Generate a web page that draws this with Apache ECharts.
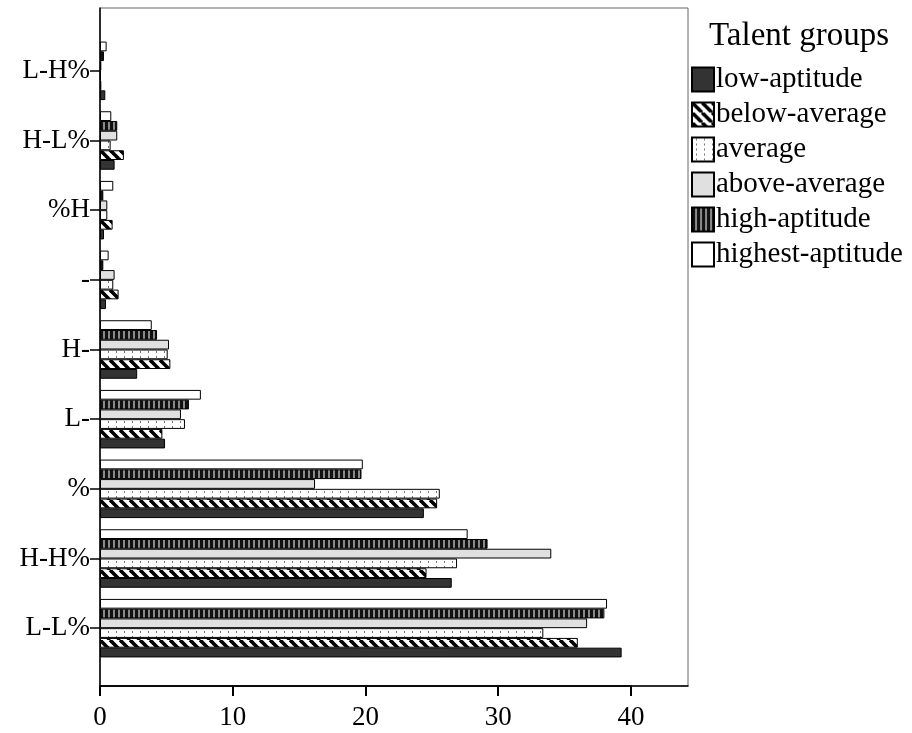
<!DOCTYPE html>
<html><head><meta charset="utf-8">
<script src="https://cdn.jsdelivr.net/npm/echarts@6/dist/echarts.min.js"></script>
<style>html,body{margin:0;padding:0;background:#fff}#c{width:912px;height:733px}</style>
</head><body><div id="c"></div>
<script>
const categories = ['L-L%', 'H-H%', '%', 'L-', 'H-', '-', '%H', 'H-L%', 'L-H%'];
const groupNames = ['low-aptitude', 'below-average', 'average', 'above-average', 'high-aptitude', 'highest-aptitude'];
const lowAptitude     = [39.3, 26.5, 24.4, 4.9, 2.8, 0.45, 0.3, 1.1, 0.4];
const belowAverage    = [36.0, 24.6, 25.4, 4.7, 5.3, 1.4, 0.95, 1.8, 0.1];
const averageGroup    = [33.4, 26.9, 25.6, 6.4, 5.1, 1.0, 0.55, 0.8, 0.05];
const aboveAverage    = [36.7, 34.0, 16.2, 6.1, 5.2, 1.1, 0.55, 1.3, 0.1];
const highAptitude    = [38.0, 29.2, 19.7, 6.7, 4.3, 0.25, 0.25, 1.3, 0.3];
const highestAptitude = [38.2, 27.7, 19.8, 7.6, 3.9, 0.65, 1.0, 0.85, 0.5];
const xTickMin = 0, xTickMax = 40, xTickStep = 10;
const seriesValues = [lowAptitude, belowAverage, averageGroup, aboveAverage, highAptitude, highestAptitude];

function pat(w, h, draw) {
  const c = document.createElement('canvas'); c.width = w; c.height = h;
  const g = c.getContext('2d'); draw(g, w, h); return {image: c, repeat: 'repeat'};
}
const fills = [
  '#333333',
  pat(10, 10, (g, w, h) => {
    g.fillStyle = '#fff'; g.fillRect(0, 0, w, h);
    g.strokeStyle = '#000'; g.lineWidth = 3.6;
    for (const o of [-10, 0, 10]) { g.beginPath(); g.moveTo(o, 0); g.lineTo(o + 10, 10); g.stroke(); }
  }),
  pat(8, 5, (g, w, h) => {
    g.fillStyle = '#fff'; g.fillRect(0, 0, w, h);
    g.fillStyle = '#777'; g.fillRect(4, 1, 1, 2);
  }),
  '#e0e0e0',
  pat(5, 4, (g, w, h) => {
    g.fillStyle = '#111'; g.fillRect(0, 0, w, h);
    g.fillStyle = '#8a8a8a'; g.fillRect(3, 0, 2, h);
  }),
  '#ffffff'
];

const XMAX = 44.3;
const PLOT_L = 100, PLOT_R = 688;
const tickAxisRight = 912 - (PLOT_L + (PLOT_R - PLOT_L) * xTickMax / XMAX);
const font = 'Liberation Serif';
const chart = echarts.init(document.getElementById('c'));
const order = [5, 4, 3, 2, 1, 0];
chart.setOption({
  animation: false,
  backgroundColor: '#fff',
  grid: [
    {left: PLOT_L, right: 912 - PLOT_R, top: 8, bottom: 47, show: true, borderColor: '#666', borderWidth: 1},
    {left: PLOT_L, right: 912 - PLOT_R, top: 36, bottom: 70},
    {left: PLOT_L, right: tickAxisRight, top: 8, bottom: 47}
  ],
  xAxis: [
    {gridIndex: 0, type: 'value', min: 0, max: XMAX,
     axisLine: {show: true, lineStyle: {color: '#000', width: 1.5}},
     axisTick: {show: false}, axisLabel: {show: false}, splitLine: {show: false}},
    {gridIndex: 1, type: 'value', min: 0, max: XMAX, show: false},
    {gridIndex: 2, type: 'value', min: xTickMin, max: xTickMax, interval: xTickStep, position: 'bottom',
     axisLine: {show: true, lineStyle: {color: '#000', width: 1.5}},
     axisTick: {show: true, inside: false, length: 10, lineStyle: {color: '#000', width: 2}},
     axisLabel: {fontFamily: font, fontSize: 27, color: '#000', margin: 18},
     splitLine: {show: false}, z: 10}
  ],
  yAxis: [
    {gridIndex: 0, type: 'value', min: 0, max: 1, show: true,
     axisLine: {show: true, lineStyle: {color: '#000', width: 1.5}},
     axisTick: {show: false}, axisLabel: {show: false}, splitLine: {show: false}},
    {gridIndex: 1, type: 'category', data: categories,
     axisLine: {show: false},
     axisTick: {show: true, alignWithLabel: true, length: 10, lineStyle: {color: '#000', width: 1.5}},
     axisLabel: {fontFamily: font, fontSize: 27, color: '#000', margin: 10}},
    {gridIndex: 2, type: 'value', min: 0, max: 1, show: false}
  ],
  legend: {
    orient: 'vertical', left: 691, top: 65, padding: 0,
    itemWidth: 22, itemHeight: 24, itemGap: 6,
    textStyle: {fontFamily: font, fontSize: 29, lineHeight: 24, color: '#000', padding: [0, 0, 0, -3]},
    data: groupNames.map(n => ({name: n, icon: 'rect'}))
  },
  title: {text: 'Talent groups', left: 709, top: 20, padding: 0,
    textStyle: {fontFamily: font, fontSize: 33, fontWeight: 'normal', color: '#000'}},
  series: order.map(i => ({
    name: groupNames[i], type: 'bar', xAxisIndex: 1, yAxisIndex: 1,
    data: seriesValues[i],
    barGap: '0%', barCategoryGap: '16%',
    itemStyle: {color: fills[i], borderColor: '#000', borderWidth: 1}
  }))
});
</script></body></html>
